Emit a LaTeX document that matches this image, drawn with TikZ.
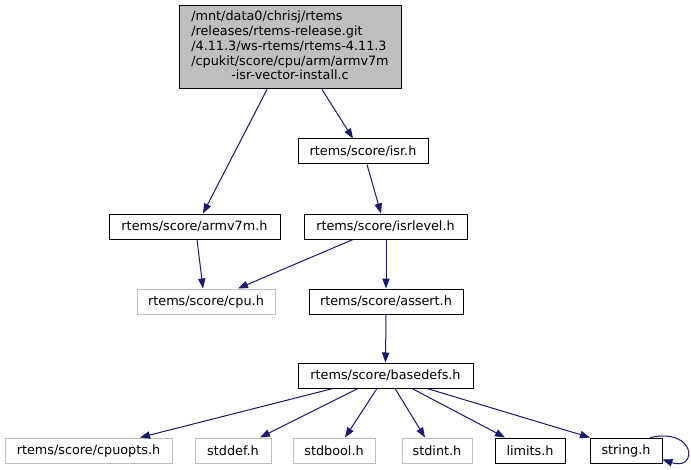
\documentclass[tikz,border=0pt]{standalone}
\usepackage{fontspec}
\setmainfont{DejaVu Sans}
\usetikzlibrary{arrows.meta,calc}
\definecolor{edgeblue}{HTML}{191970}
\definecolor{lightgrayline}{HTML}{BFBFBF}
\begin{document}
\begin{tikzpicture}[x=0.75pt,y=-0.75pt,
  every node/.style={font=\fontsize{9.6}{11.06}\selectfont, inner sep=0pt},
  filebox/.style={draw=black, line width=0.75pt, minimum height=18.75pt, text=black},
  extbox/.style={draw=lightgrayline, line width=0.75pt, minimum height=18.75pt, text=black},
  edge/.style={draw=edgeblue, line width=0.75pt, -{Triangle[length=7.5pt,width=5.5pt,fill=edgeblue]}}]
\useasboundingbox (0,0) rectangle (691,470);

\node[draw=black, fill=lightgrayline, line width=0.75pt, minimum width=166.5pt, minimum height=62.25pt] (top) at (290,47.5)
  {\begin{tabular}{@{}l@{}}/mnt/data0/chrisj/rtems\\/releases/rtems-release.git\\/4.11.3/ws-rtems/rtems-4.11.3\\/cpukit/score/cpu/arm/armv7m\\\multicolumn{1}{@{}c@{}}{-isr-vector-install.c}\end{tabular}};

\node[filebox, minimum width=97.5pt] (isr) at (363,151.5) {rtems/score/isr.h};
\node[filebox, minimum width=128.25pt] (armv7m) at (194.5,226.5) {rtems/score/armv7m.h};
\node[filebox, minimum width=122.25pt] (isrlevel) at (385.5,226.5) {rtems/score/isrlevel.h};
\node[extbox, minimum width=103.5pt] (cpu) at (206,301.5) {rtems/score/cpu.h};
\node[filebox, minimum width=115.5pt] (assert) at (386,301.5) {rtems/score/assert.h};
\node[filebox, minimum width=131.25pt] (basedefs) at (385.5,375.5) {rtems/score/basedefs.h};
\node[extbox, minimum width=125.25pt] (cpuopts) at (88.5,450.5) {rtems/score/cpuopts.h};
\node[extbox, minimum width=57pt] (stddef) at (233,450.5) {stddef.h};
\node[extbox, minimum width=61.5pt] (stdbool) at (334,450.5) {stdbool.h};
\node[extbox, minimum width=52.5pt] (stdint) at (437,450.5) {stdint.h};
\node[filebox, minimum width=52.5pt] (limits) at (530,450.5) {limits.h};
\node[filebox, minimum width=54pt] (string) at (626,450.5) {string.h};

\draw[edge] ($(top.south)+(-23,0)$) -- ($(armv7m.north)+(8.5,0)$);
\draw[edge] ($(top.south)+(32,0)$) -- ($(isr.north)+(-10,0)$);
\draw[edge] ($(isr.south)+(4,0)$) -- ($(isrlevel.north)+(-4.5,0)$);
\draw[edge] ($(armv7m.south)+(2.5,0)$) -- ($(cpu.north)+(-3,0)$);
\draw[edge] ($(isrlevel.south)+(-32.5,0)$) -- ($(cpu.north)+(32,0)$);
\draw[edge] ($(isrlevel.south)+(0.5,0)$) -- ($(assert.north)+(0,0)$);
\draw[edge] (assert.south) -- (basedefs.north);
\draw[edge] ($(basedefs.south)+(-52.5,0)$) -- ($(cpuopts.north)+(51.5,0)$);
\draw[edge] ($(basedefs.south)+(-27.5,0)$) -- ($(stddef.north)+(27,0)$);
\draw[edge] ($(basedefs.south)+(-8.5,0)$) -- ($(stdbool.north)+(11,0)$);
\draw[edge] ($(basedefs.south)+(9.5,0)$) -- ($(stdint.north)+(-12,0)$);
\draw[edge] ($(basedefs.south)+(26.5,0)$) -- ($(limits.north)+(-25,0)$);
\draw[edge] ($(basedefs.south)+(41.5,0)$) -- ($(string.north)+(-36,0)$);
\draw[edge] ($(string.north)+(24,0)$) .. controls +(47,-10) and +(35,12) .. ($(string.east)+(0,9)$);
\end{tikzpicture}
\end{document}
